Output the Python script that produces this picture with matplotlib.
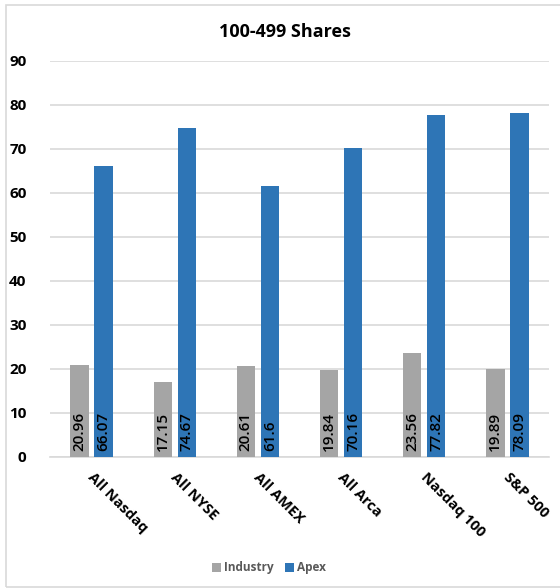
import numpy as np
import matplotlib
matplotlib.use('Agg')
import matplotlib.pyplot as plt
from matplotlib.patches import Rectangle

plt.rcParams['font.family'] = ['Open Sans', 'DejaVu Sans']

# data
categories = ['All Nasdaq', 'All NYSE', 'All AMEX', 'All Arca', 'Nasdaq 100', 'S&P 500']
industry = [20.96, 17.15, 20.61, 19.84, 23.56, 19.89]
apex = [66.07, 74.67, 61.6, 70.16, 77.82, 78.09]
industry_labels = ['20.96', '17.15', '20.61', '19.84', '23.56', '19.89']
apex_labels = ['66.07', '74.67', '61.6', '70.16', '77.82', '78.09']

gray = '#A5A5A5'
blue = '#2E75B6'

fig = plt.figure(figsize=(5.6, 5.88), dpi=100)
ax = fig.add_axes([50/560, 1 - 457/588, 499/560, 396/588])

x = np.arange(len(categories))
w = 0.22
off = 0.145
b1 = ax.bar(x - off, industry, w, color=gray, label='Industry', zorder=3)
b2 = ax.bar(x + off, apex, w, color=blue, label='Apex', zorder=3)

# value labels, rotated, sitting at the bottom of each bar
for bars, labs in ((b1, industry_labels), (b2, apex_labels)):
    for rect, lab in zip(bars, labs):
        ax.text(rect.get_x() + rect.get_width() / 2, 1.3, lab, rotation=90,
                ha='center', va='bottom', fontsize=11, fontweight='semibold',
                color='black', zorder=4)

ax.set_xlim(-0.5, len(categories) - 0.5)
ax.set_ylim(0, 90)
ax.set_yticks(np.arange(0, 91, 10))
ax.grid(axis='y', color='#D9D9D9', linewidth=1.2, zorder=0)
ax.set_axisbelow(True)
for s in ['top', 'right', 'left']:
    ax.spines[s].set_visible(False)
ax.spines['bottom'].set_color('#D9D9D9')
ax.spines['bottom'].set_linewidth(1.2)
ax.tick_params(axis='both', length=0)
ax.tick_params(axis='y', pad=17)
for t in ax.get_yticklabels():
    t.set_fontweight('bold')
    t.set_fontsize(11)

ax.set_xticks(x)
ax.set_xticklabels([])
for xi, cat in zip(x, categories):
    ax.text(xi + 0.04, -3.0, cat, rotation=-45, rotation_mode='anchor',
            ha='left', va='top', fontsize=10.5, fontweight='bold',
            transform=ax.transData, clip_on=False)

fig.text(285/560, 1 - 32/588, '100-499 Shares', ha='center', va='center',
         fontsize=13, fontweight='bold')

fig.legend(handles=[b1, b2], labels=['Industry', 'Apex'], loc='center',
           bbox_to_anchor=(269/560, 1 - 568/588), ncol=2, frameon=False,
           handlelength=0.75, handleheight=0.75, handletextpad=0.25,
           columnspacing=1.0, prop={'size': 8.5, 'weight': 'bold'},
           labelcolor='#595959')

# outer chart border
fig.patches.append(Rectangle((6/560, 1 - 587/588), 600/560, 582/588,
                             transform=fig.transFigure, fill=False,
                             edgecolor='#D9D9D9', linewidth=1.2))

fig.savefig('out.png', dpi=100)
